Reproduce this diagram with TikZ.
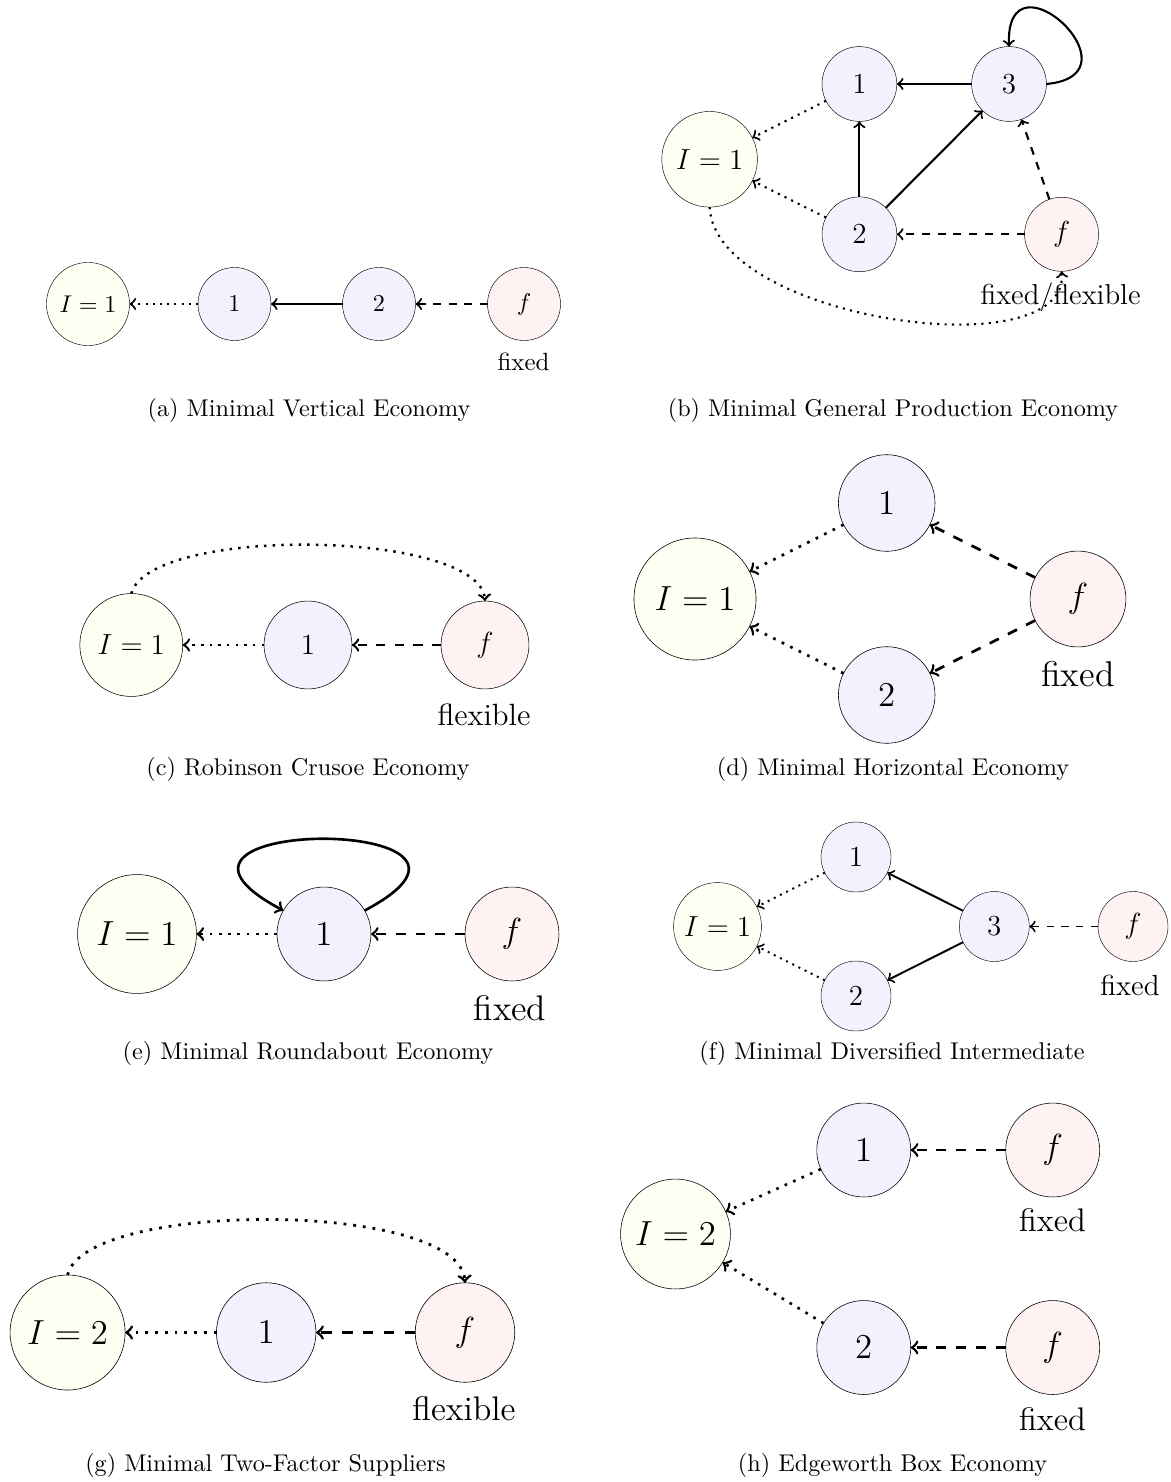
\documentclass[tikz,border=0pt]{standalone}
\tikzset{
  nd/.style={circle, draw, inner sep=0pt, outer sep=0pt, line width=0.6\pgflinewidth},
  inode/.style={nd, fill=yellow!5},
  pnode/.style={nd, fill=blue!5},
  fnode/.style={nd, fill=red!5},
  dotl/.style={->, dash pattern=on \pgflinewidth off 2.5\pgflinewidth},
  dashl/.style={->, dash pattern=on 3.75\pgflinewidth off 3.75\pgflinewidth},
  soll/.style={->},
  lbltxt/.style={anchor=base, inner sep=0pt},
  captxt/.style={anchor=base, inner sep=0pt, font=\fontsize{10}{12}\selectfont},
}
\begin{document}
\begin{tikzpicture}[x=0.413pt, y=-0.413pt]
\useasboundingbox (0,0) rectangle (1170,1482);

% ---------- (a)
\begin{scope}[line width=0.85pt, font=\fontsize{10.3}{12.4}\selectfont,
  styIa/.style={inode, minimum size=34.3pt}, styNa/.style={pnode, minimum size=30.15pt}, styFa/.style={fnode, minimum size=30.15pt}]
\node[styIa] (Ia) at (88,304) {$I=1$};
\node[styNa] (A1) at (234.5,304) {$1$};
\node[styNa] (A2) at (379,304) {$2$};
\node[styFa] (Af) at (524,304) {$f$};
\node[lbltxt] (Aflab) at (523.5,370) {fixed};
\draw[dotl] (A1) -- (Ia);
\draw[soll] (A2) -- (A1);
\draw[dashl] (Af) -- (A2);
\end{scope}
\node[captxt] (capa) at (309,416) {(a) Minimal Vertical Economy};

% ---------- (b)
\begin{scope}[line width=0.87pt, font=\fontsize{11.9}{14.3}\selectfont,
  styIb/.style={inode, minimum size=39.5pt}, styNb/.style={pnode, minimum size=30.9pt}, styFb/.style={fnode, minimum size=30.6pt}]
\node[styIb] (Ib) at (709.6,159.3) {$I=1$};
\node[styNb] (B1) at (859.4,84) {$1$};
\node[styNb] (B3) at (1009,84) {$3$};
\node[styNb] (B2) at (859.4,234.3) {$2$};
\node[styFb] (Bf) at (1061.6,234.3) {$f$};
\node[lbltxt] (Bflab) at (1060.6,304) {fixed/flexible};
\draw[soll] (B3) -- (B1);
\draw[soll] (B2) -- (B1);
\draw[soll] (B2) -- (B3);
\draw[soll] (B3.east) .. controls (1145,75) and (1005,-55) .. (B3.north);
\draw[dashl] (Bf) -- (B3);
\draw[dashl] (Bf) -- (B2);
\draw[dotl] (B1) -- (Ib);
\draw[dotl] (B2) -- (Ib);
\draw[dotl] (Ib.south) .. controls (715,320) and (1070,370) .. (Bf.south);
\end{scope}
\node[captxt] (capb) at (893,416) {(b) Minimal General Production Economy};

% ---------- (c)
\begin{scope}[line width=1.02pt, font=\fontsize{12.7}{15.2}\selectfont,
  styIc/.style={inode, minimum size=42.5pt}, styNc/.style={pnode, minimum size=36.3pt}, styFc/.style={fnode, minimum size=36.3pt}]
\node[styIc] (Ic) at (131.3,645) {$I=1$};
\node[styNc] (C1) at (308,645) {$1$};
\node[styFc] (Cf) at (485,645) {$f$};
\node[lbltxt] (Cflab) at (484,725) {flexible};
\draw[dotl] (C1) -- (Ic);
\draw[dashl] (Cf) -- (C1);
\draw[dotl] (Ic.north) .. controls (150,525) and (480,530) .. (Cf.north);
\end{scope}
\node[captxt] (capc) at (308,775) {(c) Robinson Crusoe Economy};

% ---------- (d)
\begin{scope}[line width=1.12pt, font=\fontsize{14.8}{17.8}\selectfont,
  styId/.style={inode, minimum size=50.4pt}, styNd/.style={pnode, minimum size=39.9pt}, styFd/.style={fnode, minimum size=39.6pt}]
\node[styId] (Id) at (695,599) {$I=1$};
\node[styNd] (D1) at (886.7,503) {$1$};
\node[styNd] (D2) at (886.7,695) {$2$};
\node[styFd] (Df) at (1078,599) {$f$};
\node[lbltxt] (Dflab) at (1078,686) {fixed};
\draw[dotl] (D1) -- (Id);
\draw[dotl] (D2) -- (Id);
\draw[dashl] (Df) -- (D1);
\draw[dashl] (Df) -- (D2);
\end{scope}
\node[captxt] (capd) at (893,775) {(d) Minimal Horizontal Economy};

% ---------- (e)
\begin{scope}[line width=1.09pt, font=\fontsize{14.7}{17.6}\selectfont,
  styIe/.style={inode, minimum size=49.1pt}, styNe/.style={pnode, minimum size=38.8pt}, styFe/.style={fnode, minimum size=38.8pt}]
\node[styIe] (Ie) at (137,934) {$I=1$};
\node[styNe] (E1) at (324,934) {$1$};
\node[styFe] (Ef) at (512,934) {$f$};
\node[lbltxt] (Eflab) at (510,1020) {fixed};
\draw[dotl] (E1) -- (Ie);
\draw[dashl] (Ef) -- (E1);
\draw[soll] (E1.30) .. controls (545,815) and (103,815) .. (E1.150);
\end{scope}
\node[captxt] (cape) at (308,1059) {(e) Minimal Roundabout Economy};

% ---------- (f)
\begin{scope}[line width=0.81pt, font=\fontsize{12}{14.4}\selectfont,
  styIf/.style={inode, minimum size=36.3pt}, styNf/.style={pnode, minimum size=28.9pt}, styFf/.style={fnode, minimum size=28.9pt}]
\node[styIf] (If) at (717.5,926.5) {$I=1$};
\node[styNf] (F1) at (856,857) {$1$};
\node[styNf] (F2) at (856,996) {$2$};
\node[styNf] (F3) at (994.3,926.5) {$3$};
\node[styFf] (Ff) at (1133,926.5) {$f$};
\node[lbltxt] (Fflab) at (1130,995) {fixed};
\draw[soll] (F3) -- (F1);
\draw[soll] (F3) -- (F2);
\draw[dashl] (Ff) -- (F3);
\draw[dotl] (F1) -- (If);
\draw[dotl] (F2) -- (If);
\end{scope}
\node[captxt] (capf) at (892,1059) {(f) Minimal Diversified Intermediate};

% ---------- (g)
\begin{scope}[line width=1.15pt, font=\fontsize{14.1}{16.9}\selectfont,
  styIg/.style={inode, minimum size=47.5pt}, styNg/.style={pnode, minimum size=41.1pt}, styFg/.style={fnode, minimum size=41.1pt}]
\node[styIg] (Ig) at (67.6,1332.5) {$I=2$};
\node[styNg] (G1) at (266.2,1332.5) {$1$};
\node[styFg] (Gf) at (465,1332.5) {$f$};
\node[lbltxt] (Gflab) at (464,1420) {flexible};
\draw[dotl] (G1) -- (Ig);
\draw[dashl] (Gf) -- (G1);
\draw[dotl] (Ig.north) .. controls (85,1200) and (460,1200) .. (Gf.north);
\end{scope}
\node[captxt] (capg) at (265.5,1471) {(g) Minimal Two-Factor Suppliers};

% ---------- (h)
\begin{scope}[line width=1.09pt, font=\fontsize{13.5}{16.2}\selectfont,
  styIh/.style={inode, minimum size=45.4pt}, styNh/.style={pnode, minimum size=38.8pt}, styFh/.style={fnode, minimum size=38.8pt}]
\node[styIh] (Ih) at (675.5,1234) {$I=2$};
\node[styNh] (H1) at (863.75,1150) {$1$};
\node[styNh] (H2) at (863.75,1347.5) {$2$};
\node[styFh] (Hf1) at (1052.7,1150) {$f$};
\node[styFh] (Hf2) at (1052.7,1347.5) {$f$};
\node[lbltxt] (Hflab1) at (1052.5,1231) {fixed};
\node[lbltxt] (Hflab2) at (1052.5,1430) {fixed};
\draw[dashl] (Hf1) -- (H1);
\draw[dashl] (Hf2) -- (H2);
\draw[dotl] (H1) -- (Ih);
\draw[dotl] (H2) -- (Ih);
\end{scope}
\node[captxt] (caph) at (892.5,1471) {(h) Edgeworth Box Economy};
\end{tikzpicture}
\end{document}
